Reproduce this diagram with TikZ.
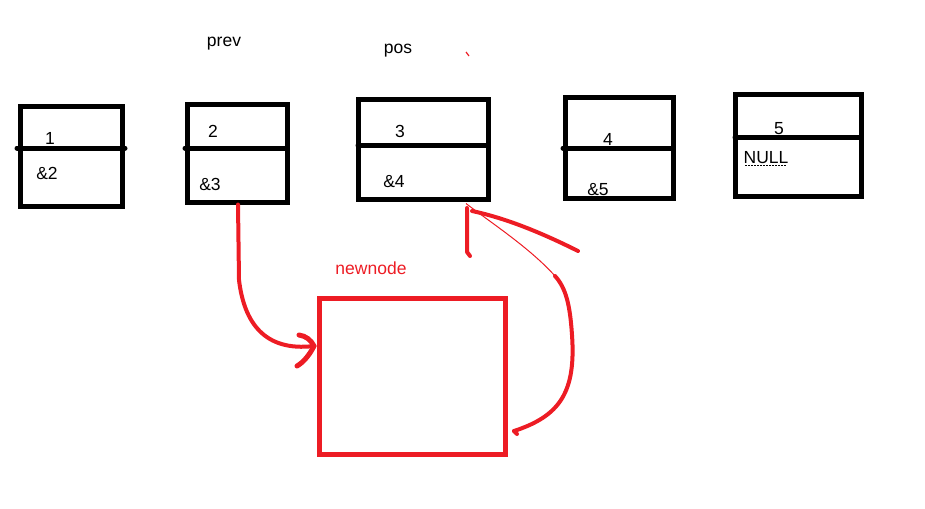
\documentclass[tikz,border=0pt]{standalone}
\usepackage{fontspec}
\setmainfont{Liberation Sans}
\definecolor{pen}{RGB}{237,28,36}
\begin{document}
\begin{tikzpicture}[x=1pt,y=-1pt,
  cell/.style={draw=black,line width=5pt,rectangle,inner sep=0pt},
  divider/.style={draw=black,line width=5pt,line cap=round},
  lbl/.style={inner sep=0pt,font=\fontsize{17.5}{20}\selectfont},
  redlbl/.style={lbl,text=pen},
  redbox/.style={draw=pen,line width=5pt,rectangle,inner sep=0pt},
  redpen/.style={draw=pen,line width=4pt,line cap=round,line join=round},
  thinpen/.style={draw=pen,line width=1pt}]
\useasboundingbox (0,0) rectangle (925,508);
% list cells
\node[cell,minimum width=102pt,minimum height=99pt] (b1) at (71,156.5) {};
\node[cell,minimum width=100pt,minimum height=97pt] (b2) at (237,153.5) {};
\node[cell,minimum width=130pt,minimum height=99pt] (b3) at (423,149.5) {};
\node[cell,minimum width=108pt,minimum height=100pt] (b4) at (619,148) {};
\node[cell,minimum width=126pt,minimum height=101pt] (b5) at (798,145.5) {};
\draw[divider] (17,148) -- (125,148);
\draw[divider] (185,148) -- (287,148);
\draw[divider] (358,145) -- (488,145);
\draw[divider] (563,148) -- (673,148);
\draw[divider] (735,137) -- (861,137);
% cell texts
\node[lbl] (t1) at (50,138) {1};
\node[lbl] (a1) at (47,173) {\&2};
\node[lbl] (t2) at (213,131) {2};
\node[lbl] (a2) at (210,184) {\&3};
\node[lbl] (t3) at (400,131) {3};
\node[lbl] (a3) at (394,182) {\&4};
\node[lbl] (t4) at (608,139) {4};
\node[lbl] (a4) at (598,190) {\&5};
\node[lbl] (t5) at (779,129) {5};
\node[lbl] (a5) at (766,158) {NULL};
\draw[black,line width=1pt,dash pattern=on 1.5pt off 1.5pt] (745,165.5) -- (786,165.5);
% pointer labels
\node[lbl] (prev) at (224,44) {prev};
\node[lbl] (pos) at (398,51) {pos};
\node[redlbl] (nnl) at (371,268) {newnode};
\draw[thinpen,line width=1.2pt] (466,52) -- (469,56);
% new node
\node[redbox,minimum width=186pt,minimum height=156pt] (nn) at (412,376) {};
% connector prev -> newnode
\coordinate (h1) at (314,346);
\draw[redpen] ([xshift=1pt]b2.south) -- (239,280) .. controls (244,322) and (264,352) .. (h1);
\draw[redpen,line width=5pt] (299,335) .. controls (306,336) and (311,340) .. (h1);
\draw[redpen,line width=5pt] (297,366) .. controls (304,362) and (310,354) .. (h1);
% short red stroke under pos
\coordinate (s1) at (467,208);
\draw[redpen] (s1) -- (467,252) -- (470,256);
% connector newnode -> pos
\coordinate (r1) at (514,431);
\coordinate (r2) at (555,276);
\draw[redpen] (r1) -- (517,434);
\draw[redpen] (r1) .. controls (560,416) and (576,392) .. (572,335) .. controls (570,305) and (566,288) .. (r2);
\draw[thinpen] (r2) .. controls (530,248) and (490,222) .. ([xshift=43pt,yshift=-2pt]b3.south);
\draw[redpen] (472,211) .. controls (505,218) and (540,232) .. (578,251);
\end{tikzpicture}
\end{document}
